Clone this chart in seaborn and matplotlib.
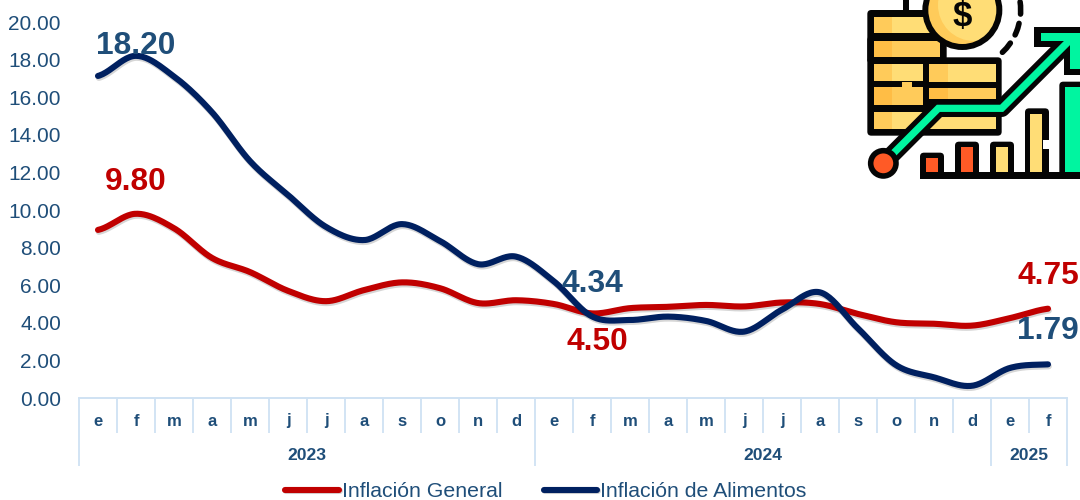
"""Inflacion general vs alimentos, monthly 2023-2025, with decorative icon."""

import numpy as np
import pandas as pd
import seaborn as sns
import matplotlib.pyplot as plt
import matplotlib.patheffects as pe
from matplotlib.patches import Rectangle, Circle, Arc, Polygon, FancyBboxPatch

MONTHS = ['e', 'f', 'm', 'a', 'm', 'j', 'j', 'a', 's', 'o', 'n', 'd',
          'e', 'f', 'm', 'a', 'm', 'j', 'j', 'a', 's', 'o', 'n', 'd',
          'e', 'f']
YEARS = ['2023', '2024', '2025']
YEAR_LENGTHS = [12, 12, 2]
GENERAL = [8.94, 9.8, 9.03, 7.45, 6.7, 5.7, 5.15, 5.74, 6.15, 5.84, 5.05, 5.2,
           5.0, 4.5, 4.78, 4.85, 4.95, 4.87, 5.08, 5.0, 4.47, 4.03, 3.95, 3.85,
           4.25, 4.75]
ALIMENTOS = [17.13, 18.2, 17.1, 15.2, 12.6, 10.8, 9.1, 8.4, 9.25, 8.35, 7.12, 7.52,
             6.2, 4.34, 4.15, 4.33, 4.1, 3.53, 4.7, 5.62, 3.7, 1.75, 1.1, 0.65,
             1.6, 1.79]
Y_TICKS = np.arange(0, 21, 2)

RED = '#C00000'
NAVY = '#002060'
TEXT = '#1F4E79'
AXIS = '#CFE2F3'
BLACK = '#050505'
YELLOW = '#FFDD76'
MID_GOLD = '#FFCB5A'
GOLD = '#FFBD45'
ORANGE = '#FF5A26'
GREEN = '#00F5A0'


def smooth(values, steps=24):
    # same cubic smoothing a spreadsheet "smoothed line" uses between points
    y = np.asarray(values, dtype=float)
    pad = np.r_[y[0], y, y[-1]]
    xs, ys = [], []
    for i in range(len(y) - 1):
        t = np.linspace(0, 1, steps, endpoint=False)
        p0, p1, p2, p3 = pad[i], pad[i + 1], pad[i + 2], pad[i + 3]
        ys.append(0.5 * (2 * p1 + (p2 - p0) * t
                         + (2 * p0 - 5 * p1 + 4 * p2 - p3) * t ** 2
                         + (3 * p1 - p0 - 3 * p2 + p3) * t ** 3))
        xs.append(i + 0.5 + t)
    return np.r_[np.concatenate(xs), len(y) - 0.5], np.r_[np.concatenate(ys), y[-1]]


def draw_icon(ax):
    ax.set_xlim(0, 690)
    ax.set_ylim(570, 0)
    ax.axis('off')

    def box(x0, y0, x1, y1, color, z=3):
        ax.add_patch(Rectangle((x0, y0), x1 - x0, y1 - y0, fc=color, ec='none', zorder=z))

    def outline(x0, y0, x1, y1, z=2):
        ax.add_patch(FancyBboxPatch((x0 + 12, y0 + 12), x1 - x0 - 24, y1 - y0 - 24,
                                    boxstyle='round,pad=12,rounding_size=12',
                                    fc=BLACK, ec='none', zorder=z))

    # coin stacks
    outline(52, 30, 255, 190)
    outline(52, 108, 290, 190)
    outline(52, 172, 455, 407)
    box(72, 50, 240, 100, YELLOW)
    box(72, 50, 127, 100, MID_GOLD)
    box(72, 122, 270, 172, MID_GOLD)
    box(72, 122, 127, 172, GOLD)
    box(72, 192, 218, 242, YELLOW)
    box(72, 192, 127, 242, MID_GOLD)
    box(238, 192, 437, 245, YELLOW)
    box(238, 192, 293, 245, MID_GOLD)
    box(72, 262, 218, 315, MID_GOLD)
    box(72, 262, 127, 315, GOLD)
    box(155, 245, 185, 262, MID_GOLD)
    box(238, 265, 437, 297, MID_GOLD)
    box(238, 265, 293, 297, GOLD)
    box(72, 335, 437, 387, YELLOW)
    box(72, 335, 127, 387, MID_GOLD)

    # coin with dollar sign and dashed ring
    box(160, 0, 178, 40, BLACK, 2)
    coin = Circle((337, 30), 111, fc=MID_GOLD, ec='none', zorder=4)
    ax.add_patch(coin)
    light = Circle((372, 15), 108, fc=YELLOW, ec='none', zorder=4.1)
    ax.add_patch(light)
    light.set_clip_path(coin)
    ax.add_patch(Circle((337, 30), 111, fc='none', ec=BLACK, lw=4.3, zorder=4.2))
    ax.text(337, 50, '$', color=BLACK, fontsize=25, fontweight='bold',
            ha='center', va='center', zorder=5)
    ax.add_patch(Arc((337, 30), 350, 350, theta1=-8, theta2=52, ec=BLACK, lw=4,
                     ls=(0, (2.2, 1.7)), capstyle='round', zorder=2))

    # bars
    for x0, top, fill, inner in [(210, 458, ORANGE, 228), (315, 425, ORANGE, 332),
                                 (420, 425, YELLOW, 437), (525, 325, YELLOW, 541),
                                 (628, 245, GREEN, 646)]:
        outline(x0, top, x0 + 72, 537)
        box(inner, top + 17, inner + 36 if x0 < 628 else 690, 520, fill)
    box(210, 515, 690, 537, BLACK, 3.5)
    box(578, 420, 600, 448, 'white', 3.5)

    # rising arrow
    xs, ys = [100, 265, 455, 665], [490, 325, 325, 115]
    ax.plot(xs, ys, color=BLACK, lw=12.5, solid_capstyle='butt', solid_joinstyle='round', zorder=6)
    ax.plot(xs, ys, color=GREEN, lw=5.2, solid_capstyle='butt', solid_joinstyle='miter', zorder=7)
    ax.add_patch(Polygon([(553, 82), (690, 82), (690, 226), (642, 226), (642, 142), (553, 142)],
                         fc=BLACK, ec='none', zorder=6))
    ax.add_patch(Polygon([(572, 100), (690, 100), (690, 208), (660, 208), (660, 124), (572, 124)],
                         fc=GREEN, ec='none', zorder=7))
    ax.add_patch(Circle((100, 490), 38, fc=ORANGE, ec=BLACK, lw=4, zorder=8))


def main():
    sns.set_theme(style='white')
    plt.rcParams['font.family'] = ['Liberation Sans', 'DejaVu Sans']

    fig = plt.figure(figsize=(10.8, 5), dpi=100)
    ax = fig.add_axes([79 / 1080, 1 - 398 / 500, 988 / 1080, 376 / 500])

    frames = []
    for name, values in [('Inflación General', GENERAL), ('Inflación de Alimentos', ALIMENTOS)]:
        x, y = smooth(values)
        frames.append(pd.DataFrame({'x': x, 'y': y, 'serie': name}))
    df = pd.concat(frames, ignore_index=True)

    sns.lineplot(data=df, x='x', y='y', hue='serie', sort=False, estimator=None, ax=ax,
                 palette={'Inflación General': RED, 'Inflación de Alimentos': NAVY},
                 lw=4.4, clip_on=False)
    shadow = [pe.SimpleLineShadow(offset=(0.6, -1.4), alpha=0.16, shadow_color='black'), pe.Normal()]
    for line in ax.lines:
        line.set_solid_capstyle('round')
        line.set_path_effects(shadow)

    n = len(MONTHS)
    ax.set_xlim(0, n)
    ax.set_ylim(0, 20)
    ax.set_xlabel('')
    ax.set_ylabel('')
    ax.set_yticks(Y_TICKS)
    ax.set_yticklabels([f'{v:.2f}' for v in Y_TICKS])
    ax.tick_params(axis='y', length=0, pad=13, labelsize=15, labelcolor=TEXT)

    for side in ['top', 'right', 'left']:
        ax.spines[side].set_visible(False)
    ax.spines['bottom'].set_color(AXIS)
    ax.spines['bottom'].set_linewidth(1.4)

    # two-level category axis: month cells above, year cells below
    edges = np.r_[0, np.cumsum(YEAR_LENGTHS)]
    ax.set_xticks(edges)
    ax.set_xticklabels([])
    ax.set_xticks(np.arange(n + 1), minor=True)
    ax.tick_params(axis='x', which='major', direction='out', length=49, width=1.3, color=AXIS, bottom=True)
    ax.tick_params(axis='x', which='minor', direction='out', length=25, width=1.3, color=AXIS, bottom=True)

    trans = ax.get_xaxis_transform()
    for i, m in enumerate(MONTHS):
        ax.text(i + 0.5, -23 / 376, m, transform=trans, ha='center', va='center',
                fontsize=12, fontweight='bold', color=TEXT)
    for year, a, b in zip(YEARS, edges[:-1], edges[1:]):
        ax.text((a + b) / 2, -58 / 376, year, transform=trans, ha='center', va='center',
                fontsize=12.6, fontweight='bold', color=TEXT)

    # value callouts, placed off the line they describe
    for i, value, y_pos, dx, color in [
            (1, '18.20', 18.73, 0.0, TEXT),
            (1, '9.80', 11.5, 0.0, RED),
            (13, '4.34', 6.07, 0.0, TEXT),
            (13, '4.50', 2.99, 0.13, RED),
            (25, '4.75', 6.5, 0.0, RED),
            (25, '1.79', 3.57, 0.0, TEXT)]:
        ax.text(i + 0.5 + dx, y_pos, value, ha='center', va='center', fontsize=22.8,
                fontweight='bold', color=color, clip_on=False, zorder=5)

    handles, labels = ax.get_legend_handles_labels()
    for h in handles:
        h.set_solid_capstyle('round')
    leg = ax.legend(handles, labels, loc='center', bbox_to_anchor=(546 / 1080, 1 - 491.5 / 500),
                    bbox_transform=fig.transFigure, ncol=2, frameon=False, fontsize=15.35,
                    handlelength=2.5, handletextpad=0.14, columnspacing=1.95, borderpad=0)
    for text in leg.get_texts():
        text.set_color(TEXT)

    icon = fig.add_axes([850 / 1080, 1 - 190 / 500, 230 / 1080, 190 / 500], zorder=10)
    draw_icon(icon)

    fig.savefig('out.png', dpi=100)
    plt.close(fig)


if __name__ == '__main__':
    main()
